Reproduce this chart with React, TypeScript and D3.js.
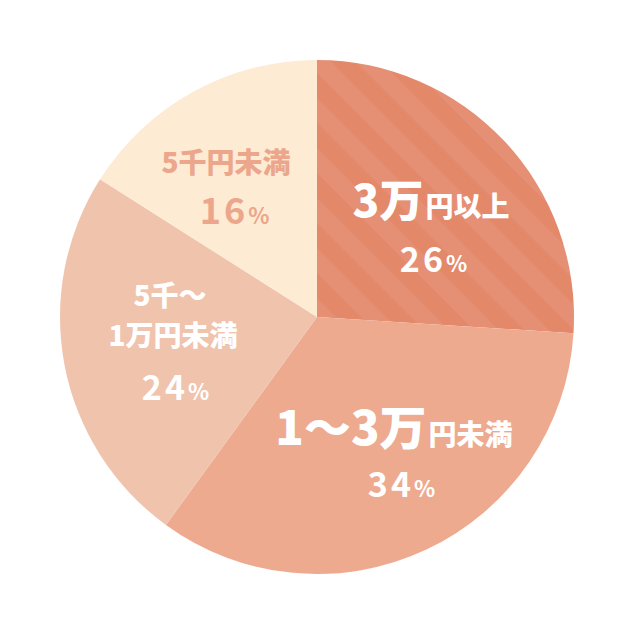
import React from 'react';
import * as d3 from 'd3';

// slices, clockwise from 12 o'clock
const categories = ['3万円以上', '1~3万円未満', '5千~1万円未満', '5千円未満'];
const shares = [26, 34, 24, 16];
const sliceColors = ['#e4886a', '#eeaa8f', '#f0c3ad', '#fdebd4'];

const W = 631, H = 631;
const cx = 317, cy = 317, R = 257;
const FONT = '"Noto Sans CJK JP", "Noto Sans", sans-serif';

const App: React.FC = () => {
  const pie = d3.pie<number>().sort(null).value(d => d);
  const arcs = pie(shares);
  const arc = d3.arc<d3.PieArcDatum<number>>().innerRadius(0).outerRadius(R);
  const stripeW = 35.4;

  return (
    <div style={{ position: 'fixed', left: 0, top: 0, width: W, height: H, background: '#fff' }}>
      <svg width={W} height={H} style={{ display: 'block' }}>
        <defs>
          <pattern id="stripes" patternUnits="userSpaceOnUse" x={31} y={0}
            width={stripeW} height={stripeW} patternTransform="rotate(-45)">
            <rect width={stripeW} height={stripeW} fill={sliceColors[0]} />
            <rect width={stripeW / 2} height={stripeW} fill="#e58f75" />
          </pattern>
        </defs>
        <g transform={`translate(${cx},${cy})`}>
          {arcs.map((a, i) => (
            <path key={categories[i]} d={arc(a) || ''}
              fill={i === 0 ? 'url(#stripes)' : sliceColors[i]} />
          ))}
        </g>

        <g fontFamily={FONT} textAnchor="middle">
          {/* 3万円以上 */}
          <text x={431} y={217} fill="#fff" fontWeight={900}>
            <tspan fontSize={44}>3万</tspan>
            <tspan fontSize={28} dx={2}>円以上</tspan>
          </text>
          <text x={435} y={272} fill="#fff" fontWeight={700} letterSpacing={3}>
            <tspan fontSize={34}>{shares[0]}</tspan>
            <tspan fontSize={22}>%</tspan>
          </text>

          {/* 1~3万円未満 */}
          <text x={394} y={445} fill="#fff" fontWeight={900}>
            <tspan fontSize={47}>1～3万</tspan>
            <tspan fontSize={28} dx={2}>円未満</tspan>
          </text>
          <text x={403} y={497} fill="#fff" fontWeight={700} letterSpacing={3}>
            <tspan fontSize={34}>{shares[1]}</tspan>
            <tspan fontSize={22}>%</tspan>
          </text>

          {/* 5千~1万円未満 */}
          <text x={170} y={306} fill="#fff" fontWeight={900} fontSize={28}>5千～</text>
          <text x={173} y={346} fill="#fff" fontWeight={900} fontSize={28}>1万円未満</text>
          <text x={177} y={400} fill="#fff" fontWeight={700} letterSpacing={3}>
            <tspan fontSize={34}>{shares[2]}</tspan>
            <tspan fontSize={22}>%</tspan>
          </text>

          {/* 5千円未満 */}
          <text x={226} y={173} fill="#eba68b" fontWeight={900} fontSize={28}>5千円未満</text>
          <text x={236} y={224} fill="#eba68b" fontWeight={700} letterSpacing={3}>
            <tspan fontSize={36}>{shares[3]}</tspan>
            <tspan fontSize={22}>%</tspan>
          </text>
        </g>
      </svg>
    </div>
  );
};

export default App;
